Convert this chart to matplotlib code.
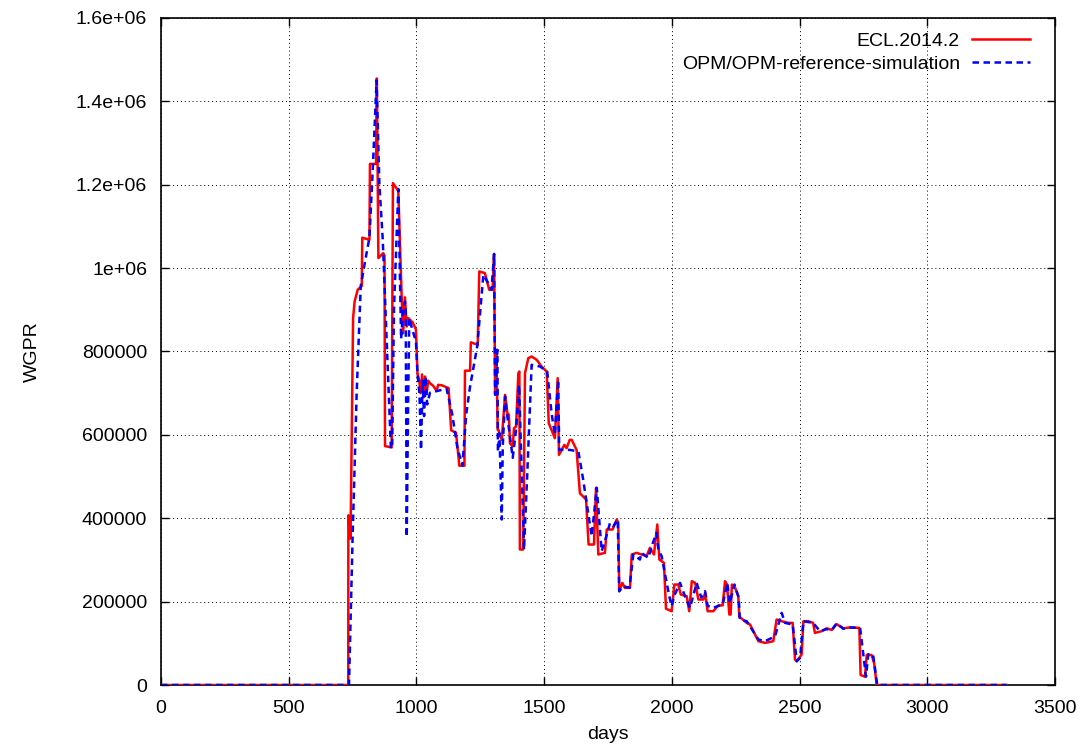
import matplotlib
matplotlib.use("Agg")
import matplotlib.pyplot as plt

# ---- data ----
ecl_days = [0, 733, 733.5, 742, 752, 758, 770, 786, 788, 816, 818, 842, 845, 851, 870, 875, 877, 903,
            908, 929, 942, 948, 955, 962, 968, 985, 998, 1004, 1012, 1016, 1022, 1028, 1034, 1040, 1046,
            1053, 1065, 1079, 1085, 1099, 1126, 1136, 1155, 1168, 1188, 1190, 1210, 1213, 1240, 1246,
            1268, 1285, 1298, 1304, 1308, 1313, 1318, 1321, 1334, 1347, 1356, 1362, 1366, 1377, 1382,
            1390, 1399, 1403, 1405, 1418, 1425, 1438, 1451, 1471, 1490, 1510, 1518, 1542, 1553, 1558,
            1579, 1588, 1600, 1608, 1627, 1640, 1664, 1674, 1695, 1703, 1712, 1738, 1745, 1768, 1784,
            1790, 1794, 1806, 1816, 1836, 1843, 1862, 1881, 1901, 1914, 1930, 1943, 1951, 1969, 1977,
            1999, 2010, 2025, 2035, 2058, 2068, 2078, 2091, 2104, 2123, 2130, 2140, 2162, 2182, 2199,
            2208, 2216, 2225, 2230, 2235, 2248, 2260, 2264, 2293, 2306, 2339, 2365, 2397, 2410, 2430,
            2456, 2473, 2482, 2489, 2508, 2515, 2534, 2553, 2560, 2586, 2606, 2626, 2645, 2671, 2697,
            2734, 2739, 2756, 2763, 2782, 2792, 2802, 3311]
ecl_wgpr = [0, 0, 407e3, 351e3, 880e3, 920e3, 948e3, 957e3, 1073e3, 1068e3, 1250e3, 1250e3, 1455e3,
            1024e3, 1036e3, 1030e3, 573e3, 570e3, 1204e3, 1185e3, 934e3, 844e3, 930e3, 860e3, 880e3,
            870e3, 853e3, 749e3, 725e3, 700e3, 745e3, 690e3, 740e3, 700e3, 730e3, 724e3, 718e3, 706e3,
            720e3, 719e3, 712e3, 611e3, 605e3, 526e3, 526e3, 754e3, 754e3, 822e3, 816e3, 992e3, 988e3,
            948e3, 948e3, 1034e3, 700e3, 804e3, 612e3, 612e3, 588e3, 696e3, 652e3, 648e3, 580e3, 572e3,
            616e3, 620e3, 748e3, 752e3, 325e3, 325e3, 748e3, 784e3, 788e3, 780e3, 764e3, 752e3, 628e3,
            592e3, 736e3, 552e3, 576e3, 568e3, 588e3, 588e3, 564e3, 460e3, 445e3, 337e3, 337e3, 473e3,
            313e3, 317e3, 373e3, 373e3, 397e3, 390e3, 225e3, 245e3, 233e3, 233e3, 313e3, 317e3, 313e3,
            309e3, 329e3, 313e3, 385e3, 301e3, 293e3, 183e3, 177e3, 241e3, 241e3, 217e3, 213e3, 177e3,
            249e3, 245e3, 205e3, 205e3, 221e3, 177e3, 177e3, 191e3, 191e3, 249e3, 241e3, 169e3, 169e3,
            241e3, 233e3, 213e3, 164e3, 149e3, 145e3, 105e3, 101e3, 105e3, 157e3, 153e3, 149e3, 149e3,
            61e3, 57e3, 73e3, 153e3, 153e3, 149e3, 125e3, 129e3, 136e3, 132e3, 146e3, 136e3, 138e3,
            137e3, 24e3, 20e3, 72e3, 72e3, 52e3, 0, 0]

opm_days = [0, 736, 750, 766, 782, 800, 816, 830, 844, 855, 868, 885, 900, 905, 912, 929, 935, 940, 948,
            955, 958, 962, 968, 972, 985, 998, 1004, 1012, 1018, 1024, 1030, 1036, 1042, 1053, 1080,
            1118, 1140, 1160, 1180, 1195, 1210, 1238, 1262, 1281, 1294, 1304, 1308, 1317, 1319, 1325,
            1334, 1338, 1347, 1356, 1377, 1390, 1402, 1412, 1421, 1434, 1451, 1484, 1512, 1529, 1542,
            1555, 1559, 1575, 1601, 1634, 1653, 1686, 1706, 1725, 1738, 1758, 1771, 1788, 1794, 1810,
            1834, 1849, 1875, 1881, 1908, 1921, 1940, 1947, 1960, 1975, 1990, 1999, 2010, 2032, 2050,
            2071, 2097, 2115, 2130, 2140, 2160, 2199, 2217, 2227, 2245, 2262, 2266, 2293, 2339, 2365,
            2404, 2430, 2443, 2473, 2489, 2502, 2515, 2553, 2580, 2606, 2626, 2645, 2671, 2697, 2737,
            2760, 2769, 2788, 2804, 3311]
opm_wgpr = [0, 0, 351e3, 700e3, 957e3, 1020e3, 1073e3, 1250e3, 1450e3, 1200e3, 1070e3, 800e3, 568e3,
            568e3, 900e3, 1190e3, 1000e3, 830e3, 900e3, 920e3, 900e3, 355e3, 700e3, 880e3, 850e3, 825e3,
            749e3, 697e3, 564e3, 730e3, 645e3, 740e3, 673e3, 701e3, 705e3, 711e3, 650e3, 570e3, 526e3,
            650e3, 716e3, 812e3, 984e3, 964e3, 948e3, 1034e3, 696e3, 804e3, 560e3, 604e3, 397e3, 572e3,
            692e3, 644e3, 545e3, 612e3, 720e3, 508e3, 325e3, 508e3, 768e3, 764e3, 752e3, 652e3, 600e3,
            732e3, 564e3, 564e3, 564e3, 560e3, 492e3, 357e3, 473e3, 321e3, 345e3, 389e3, 381e3, 397e3,
            225e3, 237e3, 233e3, 313e3, 301e3, 317e3, 305e3, 333e3, 365e3, 325e3, 309e3, 260e3, 213e3,
            189e3, 215e3, 245e3, 215e3, 185e3, 245e3, 210e3, 225e3, 190e3, 185e3, 193e3, 245e3, 197e3,
            241e3, 209e3, 157e3, 153e3, 109e3, 105e3, 117e3, 173e3, 149e3, 145e3, 57e3, 65e3, 153e3,
            149e3, 129e3, 134e3, 132e3, 148e3, 135e3, 138e3, 137e3, 20e3, 74e3, 72e3, 0, 0]

series_labels = ["ECL.2014.2", "OPM/OPM-reference-simulation"]
x_ticks = [0, 500, 1000, 1500, 2000, 2500, 3000, 3500]
y_ticks = [0, 200000, 400000, 600000, 800000, 1000000, 1200000, 1400000, 1600000]
y_tick_labels = ["0", "200000", "400000", "600000", "800000", "1e+06", "1.2e+06", "1.4e+06", "1.6e+06"]

plt.rcParams['font.family'] = ['Liberation Sans', 'DejaVu Sans']
FS = 14

fig = plt.figure(figsize=(10.86, 7.54), dpi=100)
W, H = 1086, 754
L, R, T, B = 161, 1055, 18, 685
ax = fig.add_axes([L / W, (H - B) / H, (R - L) / W, (B - T) / H])

ax.plot(ecl_days, ecl_wgpr, color='#ff0000', lw=1.8, label=series_labels[0], zorder=3)
ax.plot(opm_days, opm_wgpr, color='#0000ff', lw=1.8, linestyle=(0, (2.6, 1.8)),
        label=series_labels[1], zorder=4)

ax.set_xlim(0, 3500)
ax.set_ylim(0, 1.6e6)
ax.set_xticks(x_ticks)
ax.set_xticklabels([str(t) for t in x_ticks])
ax.set_yticks(y_ticks)
ax.set_yticklabels(y_tick_labels)

ax.grid(True, color='black', linestyle=(0, (1, 3)), lw=0.7)
ax.set_axisbelow(True)
ax.tick_params(direction='in', length=6, width=1, top=True, right=True,
               labelsize=FS, pad=10)
ax.tick_params(axis='x', pad=11)
for s in ax.spines.values():
    s.set_linewidth(1.2)

ax.set_xlabel("days", fontsize=FS, labelpad=6)
ax.set_ylabel("WGPR", fontsize=FS, labelpad=25)

leg = ax.legend(loc='upper right', bbox_to_anchor=((1030 - L) / (R - L), 1 - (32 - T) / (B - T)),
                frameon=False, markerfirst=False, fontsize=FS, handlelength=3.0,
                handletextpad=0.6, labelspacing=0.3, borderpad=0, borderaxespad=0)

fig.savefig("out.png", dpi=100)
